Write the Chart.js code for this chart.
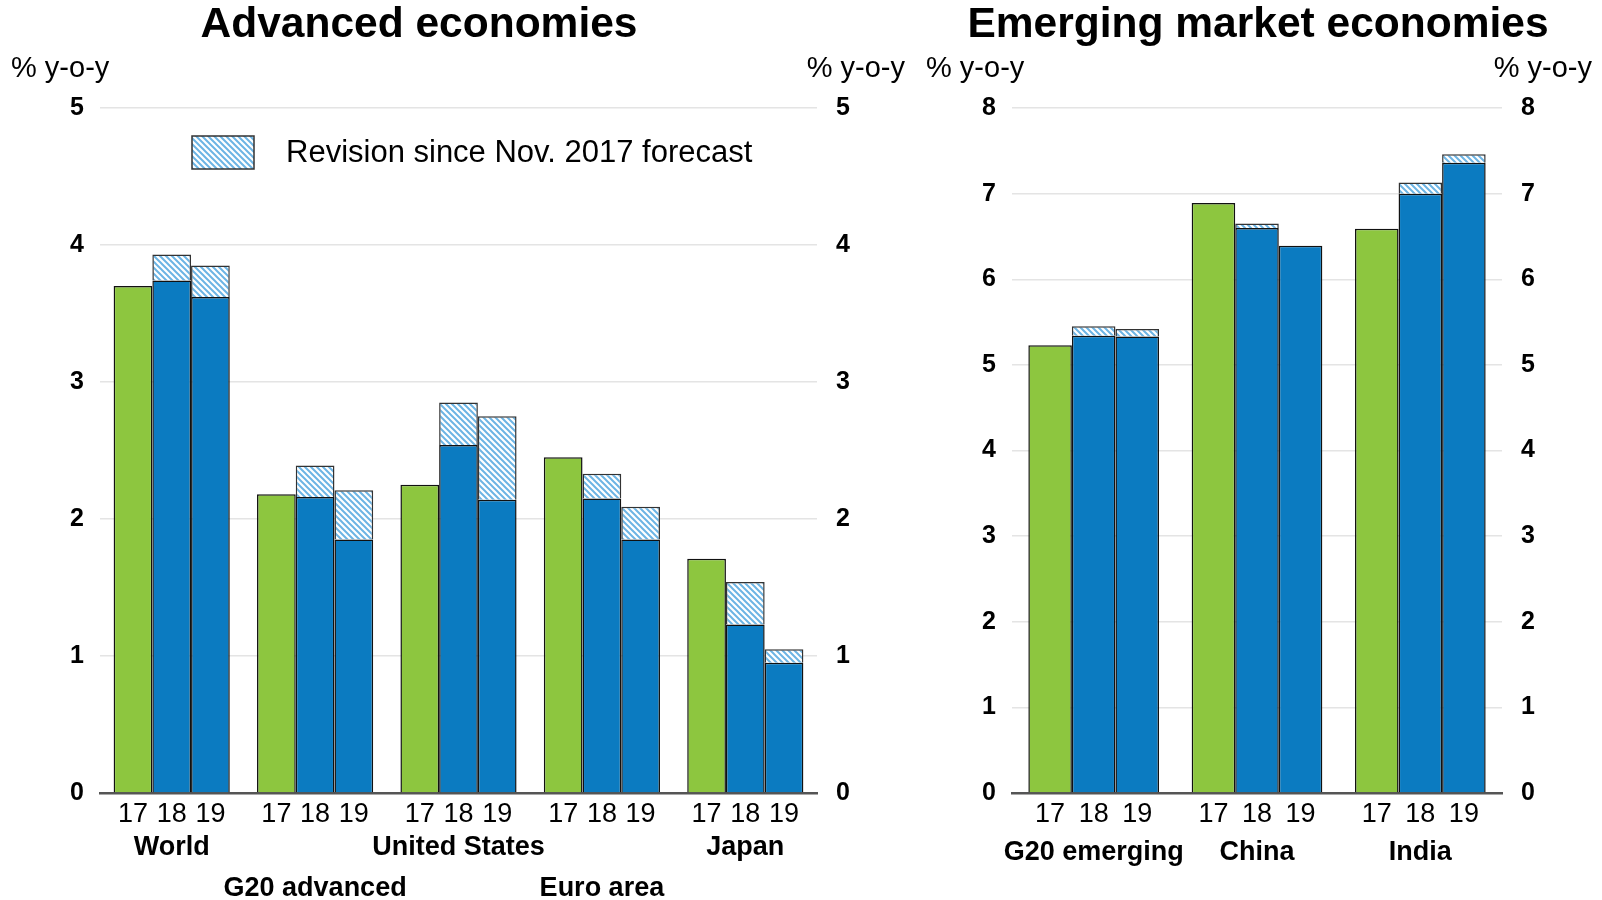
<!DOCTYPE html>
<html>
<head>
<meta charset="utf-8">
<script src="https://cdn.jsdelivr.net/npm/chart.js@4"></script>
<style>
  body { margin: 0; background: #fff; }
  #wrap { position: relative; width: 1602px; height: 900px; }
  canvas { position: absolute; top: 0; }
</style>
</head>
<body>
<div id="wrap">
  <canvas id="advChart" width="915" height="900" style="left:0"></canvas>
  <canvas id="emeChart" width="687" height="900" style="left:915px"></canvas>
</div>
<script>
// values (% y-o-y); "Rev" = revision since Nov. 2017 forecast
const advCategories = ['World', 'G20 advanced', 'United States', 'Euro area', 'Japan'];
const adv2017 = [3.70, 2.18, 2.25, 2.45, 1.71];
const adv2018 = [3.74, 2.16, 2.54, 2.15, 1.23];
const adv2018Rev = [0.19, 0.23, 0.31, 0.18, 0.31];
const adv2019 = [3.62, 1.85, 2.14, 1.85, 0.95];
const adv2019Rev = [0.23, 0.36, 0.61, 0.24, 0.10];

const emeCategories = ['G20 emerging', 'China', 'India'];
const eme2017 = [5.23, 6.89, 6.59];
const eme2018 = [5.34, 6.60, 7.00];
const eme2018Rev = [0.11, 0.05, 0.13];
const eme2019 = [5.33, 6.39, 7.36];
const eme2019Rev = [0.09, null, 0.10];

const yearLabels = ['17', '18', '19'];
const advYMax = 5;
const emeYMax = 8;

const FONT = '"Liberation Sans", Arial, Helvetica, sans-serif';
const GREEN = '#8dc63f';
const BLUE = '#0b7bc1';

// hatch fill for the revision part
function makeHatch() {
    const s = 6;
    const c = document.createElement('canvas');
    c.width = s; c.height = s;
    const g = c.getContext('2d');
    g.fillStyle = '#fff';
    g.fillRect(0, 0, s, s);
    g.strokeStyle = '#6cb4e4';
    g.lineWidth = 2;
    g.beginPath();
    g.moveTo(0, 0); g.lineTo(s, s);
    g.moveTo(-1, s - 1); g.lineTo(1, s + 1);
    g.moveTo(s - 1, -1); g.lineTo(s + 1, 1);
    g.stroke();
    return g.createPattern(c, 'repeat');
}
const hatch = makeHatch();

// title, unit labels, year labels under each bar, legend
const panelText = {
    id: 'panelText',
    afterDraw(chart, args, opts) {
        const { ctx, chartArea } = chart;
        ctx.save();
        ctx.fillStyle = '#000';
        ctx.textBaseline = 'middle';

        ctx.font = 'bold 42.5px ' + FONT;
        ctx.textAlign = 'center';
        ctx.fillText(opts.title, opts.titleX, 25);

        ctx.font = '29px ' + FONT;
        ctx.textAlign = 'left';
        ctx.fillText('% y-o-y', 11, 69);
        ctx.textAlign = 'right';
        ctx.fillText('% y-o-y', chart.width - 10, 69);

        ctx.font = '27px ' + FONT;
        ctx.textAlign = 'center';
        chart.data.datasets.forEach((ds, i) => {
            if (!ds.year) return;
            chart.getDatasetMeta(i).data.forEach(bar => {
                ctx.fillText(ds.year, bar.x, chartArea.bottom + 22);
            });
        });

        if (opts.legend) {
            const bx = chartArea.left + 92, by = chartArea.top + 28;
            ctx.fillStyle = hatch;
            ctx.fillRect(bx, by, 62, 33);
            ctx.strokeStyle = '#333';
            ctx.lineWidth = 1.5;
            ctx.strokeRect(bx, by, 62, 33);
            ctx.fillStyle = '#000';
            ctx.font = '31px ' + FONT;
            ctx.textAlign = 'left';
            ctx.fillText(opts.legend, bx + 94, by + 17);
        }
        ctx.restore();
    }
};

function makeChart(id, cats, s17, s18, r18, s19, r19, yMax, cfg) {
    const bar = { borderColor: '#111', borderWidth: 1.5, barPercentage: 1, categoryPercentage: cfg.catPct };
    const hatched = { backgroundColor: hatch, borderColor: '#333', borderWidth: 1.5, barPercentage: 1, categoryPercentage: cfg.catPct };
    const yTicks = { color: '#000', font: { family: FONT, size: 25, weight: 'bold' }, stepSize: 1 };

    new Chart(document.getElementById(id), {
        type: 'bar',
        data: {
            labels: cats,
            datasets: [
                { ...bar, label: '2017', data: s17, stack: 'a', backgroundColor: GREEN, year: yearLabels[0] },
                { ...bar, label: '2018', data: s18, stack: 'b', backgroundColor: BLUE, year: yearLabels[1] },
                { ...hatched, label: 'Revision 2018', data: r18, stack: 'b' },
                { ...bar, label: '2019', data: s19, stack: 'c', backgroundColor: BLUE, year: yearLabels[2] },
                { ...hatched, label: 'Revision 2019', data: r19, stack: 'c' }
            ]
        },
        options: {
            responsive: false,
            animation: false,
            layout: { padding: { top: 108 } },
            plugins: {
                legend: { display: false },
                tooltip: { enabled: false },
                panelText: { title: cfg.title, titleX: cfg.titleX, legend: cfg.legend }
            },
            scales: {
                x: {
                    stacked: true,
                    grid: { display: false, drawTicks: false },
                    border: { color: '#555', width: 2.5 },
                    ticks: {
                        color: '#000',
                        padding: cfg.xPad,
                        maxRotation: 0,
                        autoSkip: false,
                        font: { family: FONT, size: 27, weight: 'bold', lineHeight: 41 / 27 },
                        callback: (v, i) => (cfg.stagger && i % 2) ? ['', cats[i]] : cats[i]
                    },
                    afterFit: s => { s.height = 107; }
                },
                y: {
                    stacked: true,
                    min: 0, max: yMax,
                    border: { display: false },
                    grid: {
                        drawTicks: false,
                        lineWidth: 1.5,
                        color: c => c.tick && c.tick.value === 0 ? 'rgba(0,0,0,0)' : '#e4e4e4'
                    },
                    ticks: { ...yTicks, padding: 16 },
                    afterFit: s => { s.width = cfg.leftW; }
                },
                y2: {
                    position: 'right',
                    min: 0, max: yMax,
                    border: { display: false },
                    grid: { display: false, drawTicks: false },
                    ticks: { ...yTicks, padding: 19 },
                    afterFit: s => { s.width = cfg.rightW; }
                }
            }
        },
        plugins: [panelText]
    });
}

makeChart('advChart', advCategories, adv2017, adv2018, adv2018Rev, adv2019, adv2019Rev, advYMax, {
    title: 'Advanced economies', titleX: 419, legend: 'Revision since Nov. 2017 forecast',
    catPct: 0.81, stagger: true, xPad: 34, leftW: 100, rightW: 98
});
makeChart('emeChart', emeCategories, eme2017, eme2018, eme2018Rev, eme2019, eme2019Rev, emeYMax, {
    title: 'Emerging market economies', titleX: 343, legend: null,
    catPct: 0.80, stagger: false, xPad: 39, leftW: 97, rightW: 100
});
</script>
</body>
</html>
